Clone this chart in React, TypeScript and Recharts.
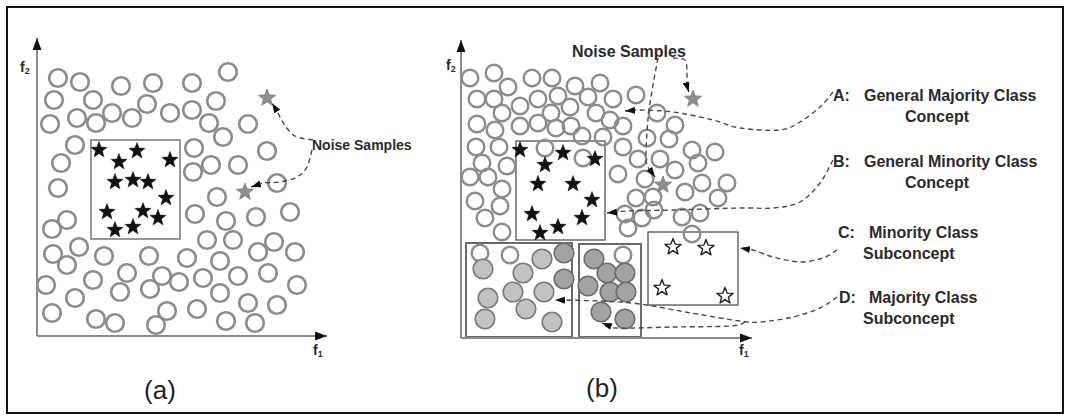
import React from "react";
import { ScatterChart, Scatter, XAxis, YAxis, ReferenceArea, ReferenceLine } from "recharts";

type P = [number, number];
const pts = (a: P[]) => a.map(([x, y]) => ({ x, y }));

// ---- panel (a): f1 0..290, f2 0..298 ----
const A_MAJORITY: P[] = [
  [21, 258], [43, 254], [84, 250], [116, 253], [155, 253], [191, 264],
  [17, 236], [56, 236], [110, 232], [179, 235],
  [13, 212], [40, 218], [59, 213], [75, 223], [95, 218], [133, 223], [155, 226], [172, 213], [211, 212], [186, 199],
  [38, 191], [24, 173], [21, 148], [157, 188], [230, 185], [174, 171], [156, 164], [201, 171], [240, 153], [180, 139],
  [158, 122], [189, 115], [219, 119], [253, 124],
  [15, 107], [30, 116], [42, 89], [16, 82], [30, 71], [67, 80], [112, 80], [170, 96], [196, 96], [221, 84], [237, 94], [258, 84],
  [90, 63], [56, 56], [9, 51], [83, 44], [113, 47], [125, 60], [142, 54], [150, 78], [183, 75], [166, 58], [201, 60], [231, 63], [260, 51], [183, 43],
  [38, 38], [15, 23], [59, 17], [78, 13], [119, 11], [130, 25], [160, 27], [211, 33], [240, 31], [189, 15], [218, 13],
];
const A_MINORITY: P[] = [
  [62, 186], [100, 185], [82, 174], [133, 176], [78, 154], [96, 156], [111, 154],
  [129, 138], [70, 124], [106, 125], [121, 118], [78, 106], [96, 109],
];
const A_NOISE: P[] = [[230, 238], [208, 144]];
const A_BOX = [54, 143, 97, 196];
const A_ARROW_1: P[] = [[276, 196], [258, 200], [247, 212], [240, 225], [235, 233]];
const A_ARROW_2: P[] = [[275, 186], [270, 169], [260, 159], [243, 154], [226, 153], [214, 149]];

// ---- panel (b): f1 0..384 (axis drawn to 291), f2 0..298 ----
const B_MAJORITY: P[] = [
  [9, 260], [33, 265], [47, 251], [71, 260], [91, 260], [114, 252], [139, 255],
  [16, 239], [33, 239], [41, 225], [59, 232], [77, 239], [97, 242], [109, 231], [127, 241], [152, 239], [175, 243], [90, 225], [135, 225], [196, 225],
  [16, 214], [34, 208], [59, 212], [77, 215], [95, 210], [110, 212], [121, 202], [149, 218], [162, 212], [214, 213], [142, 201], [186, 200], [208, 199],
  [15, 191], [38, 191], [84, 190], [162, 191], [122, 180], [231, 188], [254, 186], [177, 179], [199, 179], [237, 175], [21, 175], [46, 172],
  [9, 161], [27, 161], [41, 149], [157, 164], [184, 159], [214, 168], [241, 155], [266, 155], [224, 146], [175, 140], [192, 141], [257, 140],
  [14, 137], [39, 132], [24, 120], [41, 106], [193, 128], [164, 124], [181, 120], [167, 110], [221, 121], [239, 125], [231, 104],
  [19, 85], [49, 83], [162, 83],
];
const B_SUB_LIGHT: P[] = [[22, 69], [81, 79], [62, 65], [27, 40], [52, 46], [83, 46], [65, 29], [24, 19], [91, 16]];
const B_SUB_DARK: P[] = [[103, 85], [103, 59], [133, 79], [146, 65], [164, 65], [127, 52], [149, 46], [165, 46], [140, 26], [164, 19]];
const B_MINORITY: P[] = [[59, 188], [102, 185], [84, 173], [134, 179], [77, 154], [112, 154], [131, 138], [71, 124], [121, 120], [97, 111], [79, 105]];
const B_MINORITY_SUB: P[] = [[212, 91], [245, 90], [201, 50], [264, 42]];
const B_NOISE: P[] = [[232, 239], [202, 153]];
const B_BOXES = [
  [55, 144, 98, 197],
  [187, 277, 33, 106],
  [5, 111, 1, 95],
  [118, 180, 1, 94],
];
const B_ARROWS: P[][] = [
  [[212, 280], [224, 278], [226, 265], [226, 252], [228, 246]],
  [[197, 280], [192, 253], [188, 228], [186, 206], [185, 181], [187, 171], [194, 161]],
  [[372, 246], [359, 231], [339, 216], [319, 208], [279, 210], [252, 218], [212, 226], [179, 228], [164, 227]],
  [[372, 178], [359, 155], [339, 136], [312, 130], [279, 130], [212, 128], [166, 127], [146, 125]],
  [[376, 88], [362, 80], [339, 76], [312, 81], [292, 88], [279, 90]],
  [[376, 41], [359, 30], [332, 21], [299, 16], [279, 17], [230, 25], [179, 34], [140, 37], [94, 38]],
  [[284, 16], [270, 12], [212, 11], [154, 10], [141, 15]],
];

const FONT = "'Liberation Sans', Arial, Helvetica, sans-serif";
const RING = "#8c8c8c";

function starPoints(cx: number, cy: number, R: number, r: number) {
  const out: string[] = [];
  for (let i = 0; i < 10; i++) {
    const rad = i % 2 ? r : R;
    const ang = -Math.PI / 2 + (i * Math.PI) / 5;
    out.push(`${cx + rad * Math.cos(ang)},${cy + rad * Math.sin(ang)}`);
  }
  return out.join(" ");
}

const ring = (r: number, fill: string, stroke: string, sw: number) => (p: any) => (
  <circle cx={p.cx} cy={p.cy} r={r} fill={fill} stroke={stroke} strokeWidth={sw} />
);
const star = (R: number, fill: string, stroke: string, sw: number) => (p: any) => (
  <polygon points={starPoints(p.cx, p.cy, R, R * 0.42)} fill={fill} stroke={stroke} strokeWidth={sw} strokeLinejoin="round" />
);
const noDot = () => <g />;

// catmull-rom through the points
function smooth(p: { x: number; y: number }[]) {
  let d = `M${p[0].x},${p[0].y}`;
  for (let i = 0; i < p.length - 1; i++) {
    const p0 = p[i - 1] || p[i];
    const p1 = p[i];
    const p2 = p[i + 1];
    const p3 = p[i + 2] || p2;
    d += ` C${p1.x + (p2.x - p0.x) / 6},${p1.y + (p2.y - p0.y) / 6} ${p2.x - (p3.x - p1.x) / 6},${p2.y - (p3.y - p1.y) / 6} ${p2.x},${p2.y}`;
  }
  return d;
}

const dashed = (p: any) => (
  <path d={smooth(p.points)} fill="none" stroke="#4a4a4a" strokeWidth={1.4} strokeDasharray="5 3.5" markerEnd="url(#dashHead)" />
);
const axisLine = (p: any) => (
  <line x1={p.x1} y1={p.y1} x2={p.x2} y2={p.y2} stroke={RING} strokeWidth={2} markerEnd="url(#axisHead)" />
);

const layer: React.CSSProperties = { position: "absolute", left: 0, top: 0 };

function PanelA() {
  return (
    <ScatterChart width={1065} height={420} margin={{ top: 38, right: 738, bottom: 84, left: 37 }}>
      <XAxis type="number" dataKey="x" domain={[0, 290]} hide />
      <YAxis type="number" dataKey="y" domain={[0, 298]} hide />
      <ReferenceLine segment={[{ x: 0, y: 0 }, { x: 290, y: 0 }]} shape={axisLine} ifOverflow="visible" />
      <ReferenceLine segment={[{ x: 0, y: 0 }, { x: 0, y: 298 }]} shape={axisLine} ifOverflow="visible" />
      <ReferenceArea x1={A_BOX[0]} x2={A_BOX[1]} y1={A_BOX[2]} y2={A_BOX[3]} fill="none" stroke="#777" strokeWidth={1.5} ifOverflow="visible" />
      <Scatter data={pts(A_MAJORITY)} shape={ring(8.8, "none", RING, 2.6)} isAnimationActive={false} />
      <Scatter data={pts(A_MINORITY)} shape={star(8.5, "#111", "#111", 0.5)} isAnimationActive={false} />
      <Scatter data={pts(A_NOISE)} shape={star(9, "#8f8f8f", "#777", 0.8)} isAnimationActive={false} />
      <Scatter data={pts(A_ARROW_1)} shape={noDot} line={dashed} isAnimationActive={false} />
      <Scatter data={pts(A_ARROW_2)} shape={noDot} line={dashed} isAnimationActive={false} />
    </ScatterChart>
  );
}

function PanelB() {
  return (
    <ScatterChart width={1065} height={420} margin={{ top: 40, right: 220, bottom: 82, left: 461 }}>
      <XAxis type="number" dataKey="x" domain={[0, 384]} hide />
      <YAxis type="number" dataKey="y" domain={[0, 298]} hide />
      <ReferenceLine segment={[{ x: 0, y: 0 }, { x: 291, y: 0 }]} shape={axisLine} ifOverflow="visible" />
      <ReferenceLine segment={[{ x: 0, y: 0 }, { x: 0, y: 298 }]} shape={axisLine} ifOverflow="visible" />
      {B_BOXES.map((b, i) => (
        <ReferenceArea key={i} x1={b[0]} x2={b[1]} y1={b[2]} y2={b[3]} fill="none" stroke="#6a6a6a" strokeWidth={i > 1 ? 2 : 1.5} ifOverflow="visible" />
      ))}
      <Scatter data={pts(B_MAJORITY)} shape={ring(8.3, "none", RING, 2.4)} isAnimationActive={false} />
      <Scatter data={pts(B_SUB_LIGHT)} shape={ring(9.8, "#c2c2c2", "#7a7a7a", 1.6)} isAnimationActive={false} />
      <Scatter data={pts(B_SUB_DARK)} shape={ring(9.8, "#a3a3a3", "#6e6e6e", 1.6)} isAnimationActive={false} />
      <Scatter data={pts(B_MINORITY)} shape={star(8.5, "#111", "#111", 0.5)} isAnimationActive={false} />
      <Scatter data={pts(B_MINORITY_SUB)} shape={star(8.5, "#fff", "#222", 1.4)} isAnimationActive={false} />
      <Scatter data={pts(B_NOISE)} shape={star(9, "#8f8f8f", "#777", 0.8)} isAnimationActive={false} />
      {B_ARROWS.map((a, i) => (
        <Scatter key={i} data={pts(a)} shape={noDot} line={dashed} isAnimationActive={false} />
      ))}
    </ScatterChart>
  );
}

const T = (props: any) => <text fontFamily={FONT} fontWeight="bold" fill="#2b2b2b" {...props} />;

function Labels() {
  return (
    <svg width={1065} height={420} style={{ ...layer, pointerEvents: "none" }}>
      <defs>
        <marker id="axisHead" viewBox="0 0 12 10" refX="12" refY="5" markerWidth="12" markerHeight="10" markerUnits="userSpaceOnUse" orient="auto">
          <path d="M0,0.5 L12,5 L0,9.5 z" fill="#111" />
        </marker>
        <marker id="dashHead" viewBox="0 0 10 8" refX="10" refY="4" markerWidth="10" markerHeight="8" markerUnits="userSpaceOnUse" orient="auto">
          <path d="M0,0.5 L10,4 L0,7.5 z" fill="#111" />
        </marker>
      </defs>
      <T x={20} y={72} fontSize={14}>f<tspan fontSize={9} dy={2}>2</tspan></T>
      <T x={313} y={355} fontSize={14}>f<tspan fontSize={9} dy={2}>1</tspan></T>
      <T x={446} y={70} fontSize={14}>f<tspan fontSize={9} dy={2}>2</tspan></T>
      <T x={739} y={355} fontSize={14}>f<tspan fontSize={9} dy={2}>1</tspan></T>
      <T x={312} y={150} fontSize={14}>Noise Samples</T>
      <T x={572} y={57} fontSize={16}>Noise Samples</T>

      <T x={833} y={101} fontSize={16}>A:</T>
      <T x={864} y={101} fontSize={16}>General Majority Class</T>
      <T x={937} y={122} fontSize={16} textAnchor="middle">Concept</T>
      <T x={833} y={167} fontSize={16}>B:</T>
      <T x={864} y={167} fontSize={16}>General Minority Class</T>
      <T x={937} y={188} fontSize={16} textAnchor="middle">Concept</T>
      <T x={838} y={238} fontSize={16}>C:</T>
      <T x={869} y={238} fontSize={16}>Minority Class</T>
      <T x={863} y={259} fontSize={16}>Subconcept</T>
      <T x={839} y={303} fontSize={16}>D:</T>
      <T x={869} y={303} fontSize={16}>Majority Class</T>
      <T x={863} y={324} fontSize={16}>Subconcept</T>

      <text x={160} y={399} fontFamily={FONT} fontSize={26} fill="#222" textAnchor="middle">(a)</text>
      <text x={602} y={397} fontFamily={FONT} fontSize={26} fill="#222" textAnchor="middle">(b)</text>
    </svg>
  );
}

export default function App() {
  return (
    <div style={{ position: "absolute", left: 0, top: 0, width: 1065, height: 420, background: "#fff" }}>
      <div style={{ position: "absolute", left: 6, top: 6, width: 1058, height: 408, border: "2px solid #111", boxSizing: "border-box" }} />
      <div style={layer}><PanelA /></div>
      <div style={layer}><PanelB /></div>
      <Labels />
    </div>
  );
}
